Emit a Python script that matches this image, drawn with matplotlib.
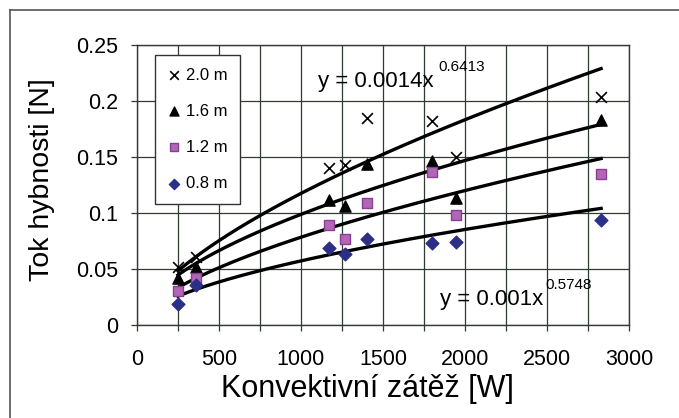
import numpy as np
import matplotlib
matplotlib.use("Agg")
import matplotlib.pyplot as plt
from matplotlib.lines import Line2D

plt.rcParams['font.family'] = ['Liberation Sans', 'DejaVu Sans']

# data
zatez = [250, 360, 1170, 1270, 1400, 1800, 1945, 2830]
labels = ['2.0 m', '1.6 m', '1.2 m', '0.8 m']
tok_20 = [0.052, 0.061, 0.140, 0.143, 0.185, 0.182, 0.150, 0.204]
tok_16 = [0.042, 0.052, 0.112, 0.106, 0.144, 0.146, 0.113, 0.183]
tok_12 = [0.030, 0.042, 0.089, 0.077, 0.109, 0.137, 0.098, 0.135]
tok_08 = [0.019, 0.036, 0.069, 0.063, 0.077, 0.073, 0.074, 0.094]
# power trendlines y = a * x^b
trend_a = [0.0014, 0.0019, 0.00112, 0.00108]
trend_b = [0.6413, 0.572, 0.615, 0.5748]

fig = plt.figure(figsize=(6.79, 4.18), dpi=100)
ax = fig.add_axes([137/679, 1 - 325/418, 492/679, 280/418])

gc = '#2f3d30'
ax.set_xlim(0, 3000)
ax.set_ylim(0, 0.25)
ax.set_xticks(np.arange(0, 3001, 250))
ax.set_xticklabels([str(v) if v % 500 == 0 else '' for v in range(0, 3001, 250)])
ax.set_yticks([0, 0.05, 0.1, 0.15, 0.2, 0.25])
ax.set_yticklabels(['0', '0.05', '0.1', '0.15', '0.2', '0.25'])
ax.grid(True, color=gc, lw=0.9)
ax.set_axisbelow(True)
for s in ax.spines.values():
    s.set_color(gc)
    s.set_linewidth(1.0)
ax.tick_params(direction='out', length=4, width=0.9, color=gc,
               labelsize=15.5)
ax.tick_params(axis='y', pad=9.5)
ax.tick_params(axis='x', pad=13.5)

# trendlines
xs = np.linspace(250, 2830, 200)
for a, b in zip(trend_a, trend_b):
    ax.plot(xs, a * xs ** b, color='black', lw=2.4, zorder=3)

ax.scatter(zatez, tok_20, marker='x', s=60, color='black', linewidths=1.2,
           label=labels[0], zorder=4)
ax.scatter(zatez, tok_16, marker='^', s=65, color='black',
           label=labels[1], zorder=4)
ax.scatter(zatez, tok_12, marker='s', s=55, facecolor='#b266b6',
           edgecolor='#8a3e92', linewidths=1.0, label=labels[2], zorder=4)
ax.scatter(zatez, tok_08, marker='D', s=42, color='#2b2f86',
           label=labels[3], zorder=4)

leg = ax.legend(loc='upper left', bbox_to_anchor=(18/492, 1 - 10/280),
                fontsize=12, frameon=True, fancybox=False, framealpha=1,
                edgecolor='#333333', handlelength=0.8, handletextpad=0.3,
                labelspacing=1.27, borderpad=0.75, markerscale=0.8,
                borderaxespad=0)
leg.get_frame().set_linewidth(1.0)

ax.set_xlabel('Konvektivní zátěž [W]', fontsize=22)
ax.xaxis.set_label_coords((367 - 137) / 492, -49 / 280)
ax.set_ylabel('Tok hybnosti [N]', fontsize=20.5, labelpad=12)
ax.yaxis.set_label_coords(-82 / 492, (325 - 180) / 280)

# equations
fig.text(318/679, 1 - 87/418, 'y = 0.0014x', fontsize=16, va='baseline')
fig.text(438/679, 1 - 71/418, '0.6413', fontsize=11, va='baseline')
fig.text(440/679, 1 - 305/418, 'y = 0.001x', fontsize=16, va='baseline')
fig.text(545/679, 1 - 289/418, '0.5748', fontsize=11, va='baseline')

# outer frame (top and left edges visible)
fig.add_artist(Line2D([10/679, 10/679], [0, 1 - 10/418], color='#555555', lw=1.2))
fig.add_artist(Line2D([10/679, 1], [1 - 10/418, 1 - 10/418], color='#555555', lw=1.2))

fig.savefig('out.png', dpi=100)
